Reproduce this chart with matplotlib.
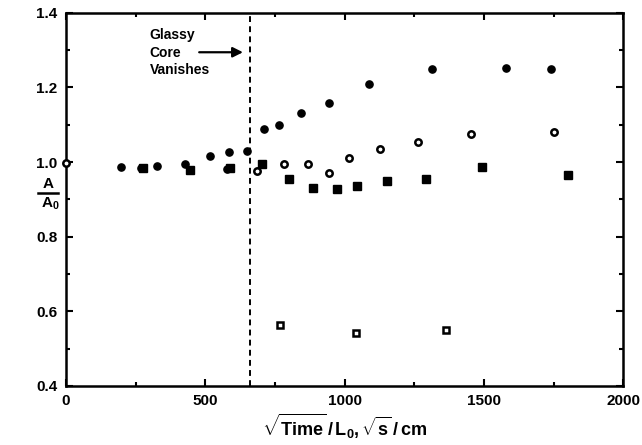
import matplotlib
matplotlib.use("Agg")
import matplotlib.pyplot as plt
from matplotlib.lines import Line2D

plt.rcParams['font.family'] = ['Liberation Sans', 'DejaVu Sans']
plt.rcParams['mathtext.fontset'] = 'custom'
plt.rcParams['mathtext.rm'] = 'Liberation Sans:bold'
plt.rcParams['mathtext.it'] = 'Liberation Sans:bold'
plt.rcParams['mathtext.bf'] = 'Liberation Sans:bold'

# Data
filled_circle_x = [197, 270, 326, 428, 518, 584, 578, 650, 710, 763, 844, 945, 1088, 1312, 1580, 1740]
filled_circle_y = [0.986, 0.985, 0.989, 0.995, 1.016, 1.026, 0.981, 1.030, 1.088, 1.099, 1.130, 1.159, 1.210, 1.249, 1.253, 1.249]

filled_square_x = [276, 445, 590, 704, 799, 888, 971, 1045, 1153, 1293, 1494, 1802]
filled_square_y = [0.984, 0.979, 0.985, 0.994, 0.954, 0.931, 0.927, 0.935, 0.949, 0.954, 0.986, 0.964]

open_circle_x = [0, 684, 783, 869, 945, 1015, 1127, 1262, 1454, 1753]
open_circle_y = [0.998, 0.977, 0.994, 0.994, 0.971, 1.012, 1.035, 1.053, 1.074, 1.081]

open_square_x = [768, 1042, 1364]
open_square_y = [0.563, 0.541, 0.549]

glassy_core_x = 660
annotation_lines = ["Glassy", "Core", "Vanishes"]

fig = plt.figure(figsize=(6.42, 4.45), dpi=100)
ax = fig.add_axes([0.1028, 0.1326, 0.8681, 0.8389])

ax.plot(filled_circle_x, filled_circle_y, 'o', color='black', ms=5.2, ls='none', clip_on=False)
ax.plot(filled_square_x, filled_square_y, 's', color='black', ms=5.4, ls='none', clip_on=False)
ax.plot(open_circle_x, open_circle_y, 'o', mfc='white', mec='black', mew=1.8, ms=4.6, ls='none', clip_on=False, zorder=5)
ax.plot(open_square_x, open_square_y, 's', mfc='white', mec='black', mew=1.8, ms=4.8, ls='none', clip_on=False)

ax.axvline(glassy_core_x, color='black', ls=(0, (3.0, 2.2)), lw=1.4)

ax.set_xlim(0, 2000)
ax.set_ylim(0.4, 1.4)
ax.set_xticks([0, 500, 1000, 1500, 2000])
ax.set_yticks([0.4, 0.6, 0.8, 1.0, 1.2, 1.4])
ax.set_xticks([250, 750, 1250, 1750], minor=True)
ax.set_yticks([0.5, 0.7, 0.9, 1.1, 1.3], minor=True)
ax.set_yticklabels(['0.4', '0.6', '0.8', '1.0', '1.2', '1.4'])
ax.tick_params(which='both', direction='in', top=True, right=True, width=1.5,
               labelsize=11, pad=6)
ax.tick_params(which='major', length=5)
ax.tick_params(which='minor', length=3)
for lab in ax.get_xticklabels() + ax.get_yticklabels():
    lab.set_fontweight('bold')
for sp in ax.spines.values():
    sp.set_linewidth(1.8)

# annotation
for i, t in enumerate(annotation_lines):
    ax.text(301, 1.340 - i * 0.047, t, fontsize=10, fontweight='bold', ha='left', va='center')
ax.annotate('', xy=(645, 1.294), xytext=(468, 1.294),
            arrowprops=dict(arrowstyle='-|>', color='black', lw=1.6, mutation_scale=15))

# y label as fraction
fig.text(48 / 642, 1 - 184 / 445, 'A', fontsize=11, fontweight='bold', ha='center', va='center')
fig.add_artist(Line2D([38 / 642, 58 / 642], [1 - 193 / 445, 1 - 193 / 445], color='black', lw=1.8))
fig.text(50 / 642, 1 - 204 / 445, r'A$_\mathbf{0}$', fontsize=11, fontweight='bold', ha='center', va='center')

# x label
fig.text(0.5 * (66 + 623) / 642, 1 - 426 / 445,
         r'$\sqrt{\mathrm{Time}}\,/\,\mathrm{L_0},\sqrt{\mathrm{s}}\,/\,\mathrm{cm}$',
         fontsize=13, ha='center', va='center')

fig.savefig('out.png', dpi=100)
